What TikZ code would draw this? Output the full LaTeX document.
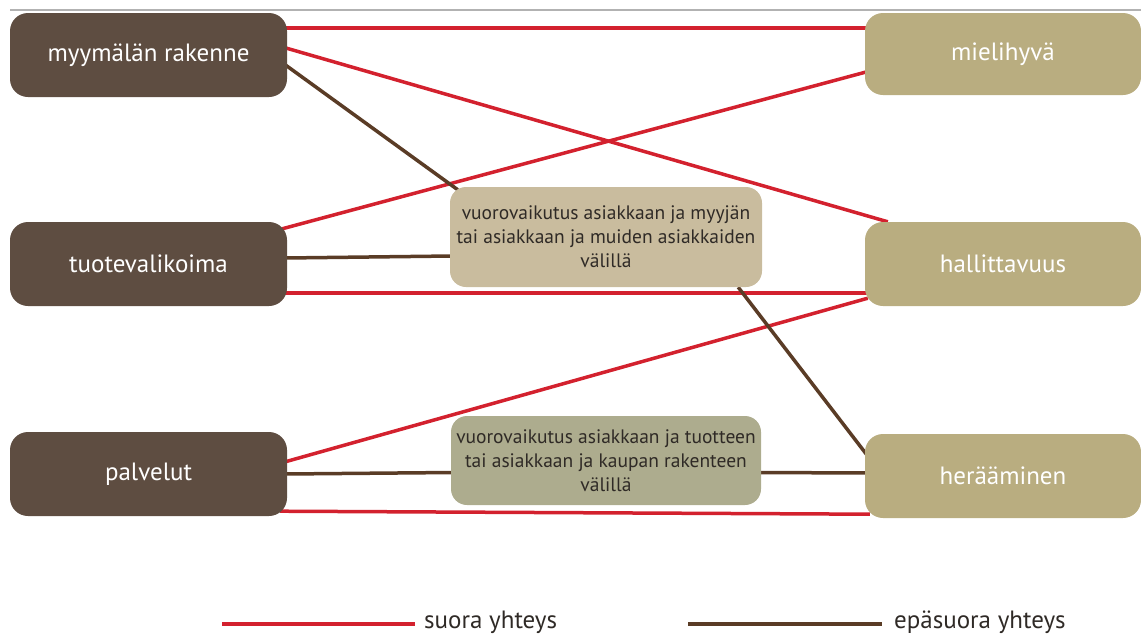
\documentclass[tikz,border=0pt]{standalone}
\usepackage{fontspec}
\setmainfont{PT Sans}
\usetikzlibrary{calc,backgrounds}
\definecolor{dbrown}{HTML}{5E4D41}
\definecolor{khaki}{HTML}{B9AD80}
\definecolor{midA}{HTML}{C9BC9E}
\definecolor{midB}{HTML}{ADAC8E}
\definecolor{redl}{HTML}{D3212E}
\definecolor{brownl}{HTML}{5A3C26}
\definecolor{txt}{HTML}{2F2A26}
\tikzset{
  lbox/.style={draw=none, fill=dbrown, rounded corners=18pt, minimum width=277pt, minimum height=84pt, text=white, font=\fontsize{25}{28}\selectfont, inner sep=0pt},
  rbox/.style={draw=none, fill=khaki, rounded corners=18pt, minimum width=276pt, minimum height=84pt, text=white, font=\fontsize{25}{28}\selectfont, inner sep=0pt},
  mbox/.style={draw=none, rounded corners=16pt, text=txt, align=center, font=\fontsize{19.5}{24}\selectfont, inner sep=0pt},
  redc/.style={draw=redl, line width=3.5pt},
  brnc/.style={draw=brownl, line width=3.5pt},
  legtxt/.style={anchor=base west, inner sep=0pt, text=txt, font=\fontsize{25}{28}\selectfont},
}
\begin{document}
\begin{tikzpicture}[x=1pt,y=-1pt]
\useasboundingbox (0,0) rectangle (1141,635);
\coordinate (g1) at (10,10);
\coordinate (g2) at (1141,10);
\draw[gray!60, line width=1.5pt] (g1) -- (g2);
\path
  (148.5,55) coordinate (cm)
  (148.5,264) coordinate (ct)
  (148.5,474) coordinate (cp)
  (1003,54) coordinate (cmh)
  (1003,264) coordinate (ch)
  (1003,476) coordinate (cr)
  (606,237) coordinate (cA)
  (606,460.5) coordinate (cB);
\node[lbox] (m) at (cm) {myymälän rakenne};
\node[lbox] (t) at (ct) {tuotevalikoima};
\node[lbox] (p) at (cp) {palvelut};
\node[rbox, minimum height=82pt] (mh) at (cmh) {mielihyvä};
\node[rbox] (h) at (ch) {hallittavuus};
\node[rbox] (r) at (cr) {herääminen};
\node[mbox, fill=midA, minimum width=312pt, minimum height=100pt] (A) at (cA) {vuorovaikutus asiakkaan ja myyjän\\tai asiakkaan ja muiden asiakkaiden\\välillä};
\node[mbox, fill=midB, minimum width=310pt, minimum height=89pt] (B) at (cB) {vuorovaikutus asiakkaan ja tuotteen\\tai asiakkaan ja kaupan rakenteen\\välillä};
\begin{pgfonlayer}{background}
% red: direct
\draw[redc] ($(m.north east)+(-2,15)$) -- ($(mh.north west)+(2,15)$);
\draw[redc] ($(m.north east)+(-2,35)$) -- ($(h.north west)+(23,0)$);
\draw[redc] ($(t.north east)+(-5,7)$) -- ($(mh.north west)+(2,59)$);
\draw[redc] ($(t.south east)+(-2,-13)$) -- ($(h.south west)+(2,-13)$);
\draw[redc] ($(p.north east)+(-2,30)$) -- ($(h.south west)+(3,-8)$);
\draw[redc] ($(p.south east)+(-7,-5)$) -- ($(r.south west)+(5,-4)$);
% brown: indirect
\draw[brnc] ($(m.north east)+(-2,52)$) -- ($(A.north west)+(8,3)$);
\draw[brnc] ($(t.east)+(-2,-6)$) -- ($(A.west)+(2,19)$);
\draw[brnc] ($(A.south east)+(-24,0)$) -- ($(r.north west)+(2,21)$);
\draw[brnc] ($(p.east)+(-2,0)$) -- ($(B.west)+(2,12)$);
\draw[brnc] ($(B.east)+(-2,12)$) -- ($(r.west)+(2,-3)$);
\end{pgfonlayer}
% legend
\coordinate (la1) at (222,624);
\coordinate (la2) at (415,624);
\coordinate (lb1) at (688,624);
\coordinate (lb2) at (882,624);
\draw[redc] (la1) -- (la2);
\draw[brnc] (lb1) -- (lb2);
\node[legtxt] (ls) at (424,628) {suora yhteys};
\node[legtxt] (le) at (894,628) {epäsuora yhteys};
\end{tikzpicture}
\end{document}
